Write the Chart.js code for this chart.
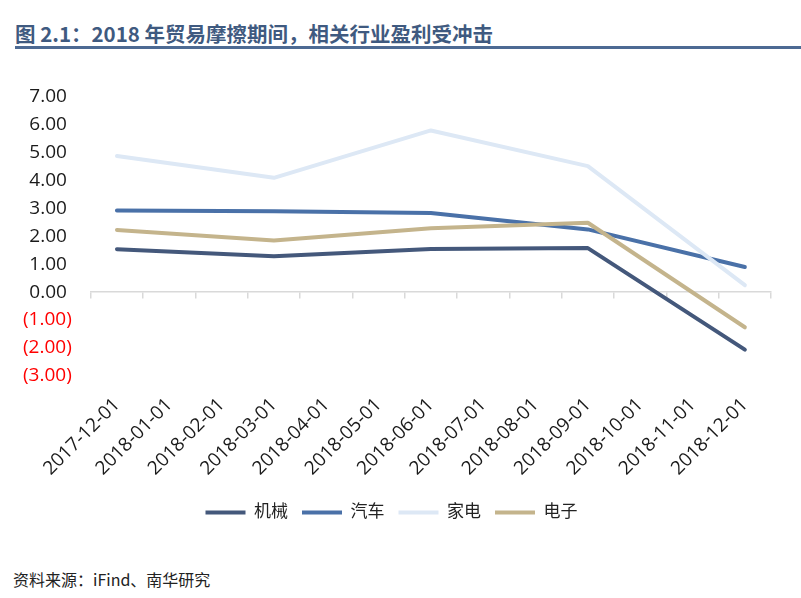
<!DOCTYPE html>
<html>
<head>
<meta charset="utf-8">
<script src="https://cdn.jsdelivr.net/npm/chart.js@4.4.0/dist/chart.umd.min.js"></script>
<style>
    body { margin: 0; background: #fff; width: 801px; height: 598px; overflow: hidden; position: relative; }
    #title {
        position: absolute; left: 15px; top: 18px;
        font: bold 20.5px "Noto Sans CJK SC", "Open Sans", sans-serif;
        color: #3f5a80; white-space: nowrap;
    }
    #rule { position: absolute; left: 15px; top: 46px; width: 786px; height: 3px; background: #4d6a93; }
    #chartBox { position: absolute; left: 0; top: 60px; width: 801px; height: 480px; }
    #source {
        position: absolute; left: 13px; top: 567px;
        font: 16px "Noto Sans CJK SC", sans-serif; color: #222; white-space: nowrap;
    }
</style>
</head>
<body>
<div id="title">图 2.1：2018 年贸易摩擦期间，相关行业盈利受冲击</div>
<div id="rule"></div>
<div id="chartBox"><canvas id="lineChart"></canvas></div>
<div id="source">资料来源：iFind、南华研究</div>

<script>
// 月份（只有季度末有数据）
const months = ["2017-12-01", "2018-01-01", "2018-02-01", "2018-03-01", "2018-04-01", "2018-05-01",
    "2018-06-01", "2018-07-01", "2018-08-01", "2018-09-01", "2018-10-01", "2018-11-01", "2018-12-01"];

const jixie  = [1.54, null, null, 1.29, null, null, 1.55, null, null, 1.58, null, null, -2.06];
const qiche  = [2.93, null, null, 2.90, null, null, 2.84, null, null, 2.25, null, null, 0.90];
const jiadian = [4.88, null, null, 4.10, null, null, 5.80, null, null, 4.52, null, null, 0.25];
const dianzi = [2.23, null, null, 1.85, null, null, 2.29, null, null, 2.49, null, null, -1.26];

const seriesNames = ["机械", "汽车", "家电", "电子"];
const seriesData = [jixie, qiche, jiadian, dianzi];
const colors = ["#44587b", "#4a71a8", "#dde8f5", "#c4b48c"];

const yMin = -3, yMax = 7;

const fontFamily = '"Open Sans", "Noto Sans CJK SC", sans-serif';

const datasets = seriesNames.map((name, i) => ({
    label: name,
    data: seriesData[i],
    borderColor: colors[i],
    backgroundColor: colors[i],
    borderWidth: 4,
    pointRadius: 0,
    tension: 0,
    spanGaps: true,
    borderCapStyle: "round",
    borderJoinStyle: "round",
    xAxisID: "x",
    yAxisID: "y",
    order: seriesNames.length - i   // later series drawn on top, like Excel
}));

const ctx = document.getElementById("lineChart").getContext("2d");

new Chart(ctx, {
    type: "line",
    data: { labels: months, datasets: datasets },
    options: {
        responsive: true,
        maintainAspectRatio: false,
        animation: false,
        layout: { padding: { left: 12, right: 30, top: 37, bottom: 9 } },
        plugins: {
            tooltip: { enabled: false },
            legend: {
                position: "bottom",
                labels: {
                    boxWidth: 40,
                    boxHeight: 4,
                    padding: 14,
                    color: "#222",
                    font: { family: fontFamily, size: 17 },
                    sort: (a, b) => a.datasetIndex - b.datasetIndex,
                    generateLabels: chart => Chart.defaults.plugins.legend.labels.generateLabels(chart)
                        .map(l => Object.assign(l, { lineWidth: 0 }))
                }
            }
        },
        scales: {
            x: {
                type: "category",
                offset: true,
                grid: { display: false },
                border: { display: false },
                ticks: {
                    minRotation: 45,
                    maxRotation: 45,
                    autoSkip: false,
                    padding: 10,
                    color: "#1a1a1a",
                    font: { family: fontFamily, size: 19 }
                }
            },
            // zero line with tick marks between months
            x0: {
                type: "category",
                position: { y: 0 },
                offset: true,
                grid: { display: true, offset: true, drawOnChartArea: false, drawTicks: true, tickLength: 6, color: "#d9d9d9", lineWidth: 1.5 },
                border: { display: true, color: "#d9d9d9", width: 1.5 },
                ticks: { display: false, autoSkip: false }
            },
            y: {
                min: yMin,
                max: yMax,
                grid: { display: false },
                border: { display: false },
                ticks: {
                    stepSize: 1,
                    padding: 11,
                    font: { family: fontFamily, size: 19 },
                    color: c => c.tick.value < 0 ? "#ff0000" : "#1a1a1a",
                    callback: v => v < 0 ? "(" + Math.abs(v).toFixed(2) + ")" : v.toFixed(2) + " "
                }
            }
        }
    }
});
</script>
</body>
</html>
